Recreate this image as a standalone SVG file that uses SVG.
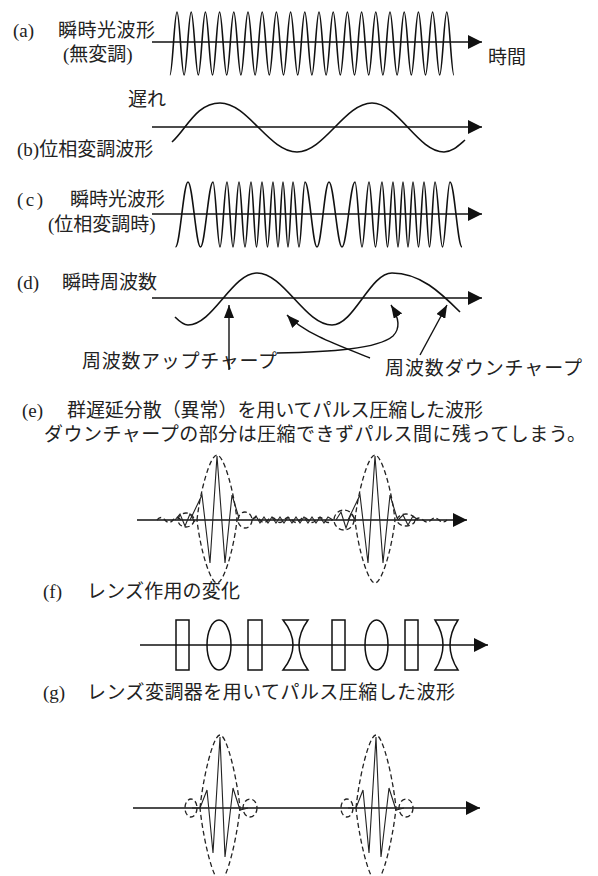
<svg xmlns="http://www.w3.org/2000/svg" xmlns:xlink="http://www.w3.org/1999/xlink" width="598" height="876" viewBox="0 0 598 876">
<style>
  .t { font-family: "Liberation Serif", "Noto Sans CJK JP", serif; font-size: 19px; fill: #222; }
  .l { font-family: "Liberation Serif", serif; font-size: 19px; fill: #222; }
  .ax { stroke: #111; stroke-width: 1.7; fill: none; marker-end: url(#ah); }
  .w { stroke: #111; stroke-width: 1.6; fill: none; }
  .thin { stroke: #222; stroke-width: 1.1; fill: none; }
  .dash { stroke: #222; stroke-width: 1.3; fill: none; stroke-dasharray: 5 3; }
  .lens { stroke: #111; stroke-width: 1.5; fill: none; }
  .ptr { stroke: #111; stroke-width: 1.4; fill: none; marker-end: url(#sh); }
</style>
<defs>
  <marker id="ah" markerUnits="userSpaceOnUse" markerWidth="14" markerHeight="14" viewBox="0 0 14 14" refX="14" refY="7" orient="auto">
    <path d="M0,0 L14,7 L0,14 Z" fill="#111"/>
  </marker>
  <marker id="sh" markerUnits="userSpaceOnUse" markerWidth="13" markerHeight="10" viewBox="0 0 13 10" refX="13" refY="5" orient="auto">
    <path d="M0,0 L13,5 L0,10 Z" fill="#111"/>
  </marker>
  <g id="pe">
    <path class="dash" d="M-20,0 C-17,-28 -7,-65 0,-65 C7,-65 17,-28 20,0 C17,28 7,63 0,63 C-7,63 -17,28 -20,0 Z"/>
    <polyline class="thin" points="-27,0 -15,-25 -7,43 0,-64 8,43 15,-25 22,-2"/>
  </g>
  <g id="pg">
    <path class="dash" d="M-20,0 C-17,-30 -7,-73 0,-73 C7,-73 17,-30 20,0 C17,30 7,73 0,73 C-7,73 -17,30 -20,0 Z"/>
    <polyline class="thin" points="-28,0 -20,0 -13,-18 -7,45 0,-71 5,49 13,-20 20,2 28,0"/>
    <ellipse class="dash" cx="-29" cy="0" rx="6" ry="9"/>
    <ellipse class="dash" cx="30" cy="0" rx="7" ry="9"/>
  </g>
</defs>
<rect width="598" height="876" fill="#fff"/>

<g id="panel-a">
  <text class="l" x="13" y="37">(a)</text>
  <text class="t" x="58" y="37" textLength="97">瞬時光波形</text>
  <text class="t" x="63" y="61">(無変調)</text>
  <line class="ax" x1="152" y1="42" x2="482" y2="42"/>
  <path class="w" d="M169.9,75 c2.6,0 4.5,-63 7.1,-63 s4.5,63 7.1,63 s4.5,-63 7.1,-63 s4.5,63 7.1,63 s4.5,-63 7.1,-63 s4.5,63 7.1,63 s4.5,-63 7.1,-63 s4.5,63 7.1,63 s4.5,-63 7.1,-63 s4.5,63 7.1,63 s4.5,-63 7.1,-63 s4.5,63 7.1,63 s4.5,-63 7.1,-63 s4.5,63 7.1,63 s4.5,-63 7.1,-63 s4.5,63 7.1,63 s4.5,-63 7.1,-63 s4.5,63 7.1,63 s4.5,-63 7.1,-63 s4.5,63 7.1,63 s4.5,-63 7.1,-63 s4.5,63 7.1,63 s4.5,-63 7.1,-63 s4.5,63 7.1,63 s4.5,-63 7.1,-63 s4.5,63 7.1,63 s4.5,-63 7.1,-63 s4.5,63 7.1,63 s4.5,-63 7.1,-63 s4.5,63 7.1,63 s4.5,-63 7.1,-63 s4.5,63 7.1,63 s4.5,-63 7.1,-63 s4.5,63 7.1,63 s4.5,-63 7.1,-63 s4.5,63 7.1,63 s4.5,-63 7.1,-63 s4.5,63 7.1,63 s4.5,-63 7.1,-63 s4.5,63 7.1,63"/>
  <text class="t" x="488" y="64">時間</text>
</g>

<g id="panel-b">
  <text class="t" x="128" y="106">遅れ</text>
  <line class="ax" x1="152" y1="127" x2="482" y2="127"/>
  <path class="w" d="M172,142 C186,130 196,103 220,103 C248,103 269,152 297,152 C324,152 345,103 372,103 C398,103 418,152 444,152 C452,152 458,146 465,140"/>
  <text class="t" x="17" y="156"><tspan class="l">(b)</tspan>位相変調波形</text>
</g>

<g id="panel-c">
  <text class="l" x="17" y="206" textLength="26">(c)</text>
  <text class="t" x="70" y="206" textLength="95">瞬時光波形</text>
  <text class="t" x="48" y="231">(位相変調時)</text>
  <line class="ax" x1="152" y1="214" x2="482" y2="214"/>
  <path class="w" d="M175.5,247 C180,247 183.5,182 188,182 C192.5,182 196,247 200.5,247 C205,247 208.5,182 213,182 C215.5,182 217.5,247 220,247 C222.5,247 224.5,182 227,182 C229.2,182 230.8,247 233,247 C235.2,247 236.8,182 239,182 C241.2,182 242.8,247 245,247 C247.2,247 248.8,182 251,182 C253,182 254.5,247 256.5,247 C258.5,247 260,182 262,182 C264,182 265.5,247 267.5,247 C269.5,247 271,182 273,182 C274.8,182 276.2,247 278,247 C279.8,247 281.2,182 283,182 C284.8,182 286.2,247 288,247 C289.8,247 291.2,182 293,182 C295.2,182 296.8,247 299,247 C301.2,247 302.8,182 305,182 C309.4,182 312.6,247 317,247 C321.4,247 324.6,182 329,182 C333.7,182 337.3,247 342,247 C346.7,247 350.3,182 355,182 C357.5,182 359.5,247 362,247 C364.5,247 366.5,182 369,182 C371.4,182 373.1,247 375.5,247 C377.9,247 379.6,182 382,182 C384,182 385.5,247 387.5,247 C389.5,247 391,182 393,182 C394.8,182 396.2,247 398,247 C399.8,247 401.2,182 403,182 C404.8,182 406.2,247 408,247 C409.8,247 411.2,182 413,182 C415,182 416.5,247 418.5,247 C420.5,247 422,182 424,182 C426,182 427.5,247 429.5,247 C431.5,247 433,182 435,182 C437.7,182 439.8,247 442.5,247 C445.2,247 447.3,182 450,182 C454.4,182 457.6,247 462,247"/>
</g>

<g id="panel-d">
  <text class="l" x="17" y="289">(d)</text>
  <text class="t" x="62" y="289" textLength="95">瞬時周波数</text>
  <line class="ax" x1="152" y1="298" x2="482" y2="298"/>
  <path class="w" d="M175,317 C179,321 184,325 188,325 C213,325 232,273 257,273 C284,273 305,325 332,325 C354,325 370,273 392,273 C420,273 440,292 460,312"/>
  <text class="t" x="82" y="368" textLength="195">周波数アップチャープ</text>
  <text class="t" x="385" y="375" textLength="197">周波数ダウンチャープ</text>
</g>

<g id="connectors">
  <path class="ptr" d="M229,370 L229,305"/>
  <path class="ptr" d="M277,353 C330,352 378,349 393,336 C401,328 398,316 391,305"/>
  <path class="ptr" d="M370,358 C340,346 305,334 287,315"/>
  <path class="ptr" d="M420,355 L447,305"/>
</g>

<g id="panel-e">
  <text class="l" x="22" y="417">(e)</text>
  <text class="t" x="67" y="417" textLength="416">群遅延分散（異常）を用いてパルス圧縮した波形</text>
  <text class="t" x="44" y="441" textLength="542">ダウンチャープの部分は圧縮できずパルス間に残ってしまう。</text>
  <line class="ax" x1="137" y1="520" x2="467" y2="520"/>
  <use xlink:href="#pe" href="#pe" transform="translate(217,520)"/>
  <use xlink:href="#pe" href="#pe" transform="translate(375,520)"/>
  <path class="dash" d="M157,520 q4,-5 8,0 t8,0 t8,0"/>
  <ellipse class="dash" cx="186" cy="520" rx="8" ry="7"/>
  <polyline class="thin" points="175,520 180,514 185,526 190,514 195,522"/>
  <ellipse class="dash" cx="245" cy="520" rx="7" ry="8"/>
  <path class="dash" d="M252,520 q4,-5 8,0 t8,0 t8,0 t8,0 t8,0 t8,0 t8,0 t8,0 t8,0 t8,0"/>
  <polyline class="thin" points="252,520 256,516 260,523 264,517 268,523 272,517 276,523 280,517 284,523 288,517 292,523 296,517 300,523 304,517 308,523 312,517 316,523 320,517 324,523 328,517 333,520"/>
  <ellipse class="dash" cx="344" cy="520" rx="10" ry="10"/>
  <polyline class="thin" points="336,520 341,512 346,528 351,514 356,520"/>
  <ellipse class="dash" cx="406" cy="520" rx="9" ry="6"/>
  <polyline class="thin" points="398,520 403,515 408,525 413,516 418,520"/>
  <path class="dash" d="M415,520 q4,-4 8,0 t8,0 t8,0 t8,0"/>
</g>

<g id="panel-f">
  <text class="l" x="43" y="598">(f)</text>
  <text class="t" x="87" y="598" textLength="153">レンズ作用の変化</text>
  <line class="ax" x1="140" y1="645" x2="488" y2="645"/>
  <rect class="lens" x="176" y="620" width="13" height="50"/>
  <ellipse class="lens" cx="219" cy="645" rx="12" ry="25"/>
  <rect class="lens" x="248" y="620" width="14" height="50"/>
  <path class="lens" d="M283,620 L308,620 Q290,645 308,670 L283,670 Q303,645 283,620 Z"/>
  <rect class="lens" x="332" y="620" width="13" height="50"/>
  <ellipse class="lens" cx="376.5" cy="645" rx="11.5" ry="25"/>
  <rect class="lens" x="405" y="620" width="13" height="50"/>
  <path class="lens" d="M435,620 L458,620 Q442,645 458,670 L435,670 Q451,645 435,620 Z"/>
</g>

<g id="panel-g">
  <text class="l" x="43" y="699">(g)</text>
  <text class="t" x="87" y="699" textLength="368">レンズ変調器を用いてパルス圧縮した波形</text>
  <line class="ax" x1="133" y1="808" x2="480" y2="808"/>
  <use xlink:href="#pg" href="#pg" transform="translate(220,808)"/>
  <use xlink:href="#pg" href="#pg" transform="translate(376,808)"/>
</g>
</svg>
